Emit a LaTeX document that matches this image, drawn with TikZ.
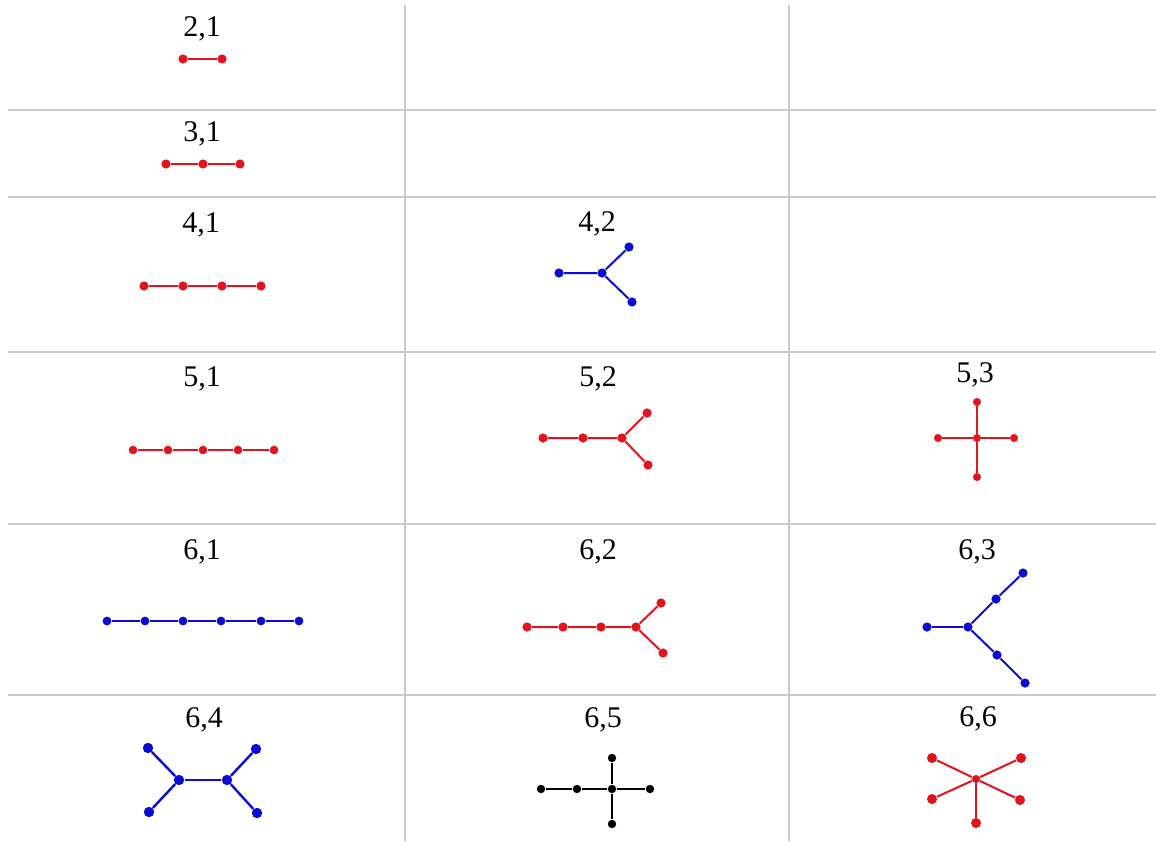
\documentclass[tikz,border=0pt]{standalone}
\usepackage{fontspec}
\setmainfont{Liberation Serif}
\definecolor{treered}{HTML}{E3121C}
\definecolor{treeblue}{HTML}{0B0BD6}
\definecolor{gridgrey}{HTML}{CACACA}
\begin{document}
\begin{tikzpicture}[x=0.5pt,y=-0.5pt,
  lbl/.style={font=\fontsize{15}{17}\selectfont, inner sep=0pt, anchor=base},
  rdot/.style={circle, fill=treered, inner sep=0pt, minimum size=4.6pt},
  bdot/.style={circle, fill=treeblue, inner sep=0pt, minimum size=4.6pt},
  kdot/.style={circle, fill=black, inner sep=0pt, minimum size=4.2pt},
  redge/.style={draw=treered, line width=1pt},
  bedge/.style={draw=treeblue, line width=1pt},
  kedge/.style={draw=black, line width=0.75pt},
  rule/.style={draw=gridgrey, line width=0.9pt}]
\fill[white] (0,0) rectangle (1156,841);
\useasboundingbox (0,0) rectangle (1156,841);
% table rules
\foreach \y in {110,197,352,524,695} \draw[rule] (8,\y) -- (1156,\y);
\foreach \x in {405,789} \draw[rule] (\x,5) -- (\x,841);
% cell titles
\foreach \id/\x/\y/\n/\k in {21/202/36/2/1, 31/202/141/3/1, 41/201/232/4/1, 42/597/231/4/2,
  51/202/386/5/1, 52/598/386/5/2, 53/975/382/5/3, 61/202/559/6/1, 62/598/559/6/2,
  63/977/559/6/3, 64/204/727/6/4, 65/603/727/6/5, 66/978/726/6/6}
  \node[lbl] (lbl\id) at (\x,\y) {\n,\k};

% paths
\foreach \x [count=\i] in {183,222} \node[rdot] (t21-\i) at (\x,59) {};
\draw[redge] (t21-1) -- (t21-2);
\foreach \x [count=\i] in {166,203,240} \node[rdot] (t31-\i) at (\x,164) {};
\draw[redge] (t31-1) -- (t31-2) -- (t31-3);
\foreach \x [count=\i] in {144,183,222,261} \node[rdot] (t41-\i) at (\x,286) {};
\draw[redge, line width=0.7pt] (t41-1) -- (t41-2) -- (t41-3) -- (t41-4);
\foreach \x [count=\i] in {133,168,203,238,274} \node[rdot, minimum size=4.3pt] (t51-\i) at (\x,450) {};
\draw[redge, line width=0.7pt] (t51-1) -- (t51-2) -- (t51-3) -- (t51-4) -- (t51-5);
\foreach \x [count=\i] in {107,145,183,221,261,299} \node[bdot, minimum size=4.4pt] (t61-\i) at (\x,621) {};
\draw[bedge] (t61-1) -- (t61-2) -- (t61-3) -- (t61-4) -- (t61-5) -- (t61-6);

% forks
\node[bdot] (t42-l) at (559,273) {};
\node[bdot] (t42-c) at (602,273) {};
\node[bdot] (t42-u) at (629,247) {};
\node[bdot] (t42-d) at (632,302) {};
\draw[bedge] (t42-l) -- (t42-c) -- (t42-u) (t42-c) -- (t42-d);

\foreach \x [count=\i] in {543,583,622} \node[rdot] (t52-\i) at (\x,438) {};
\node[rdot] (t52-u) at (647,413) {};
\node[rdot] (t52-d) at (648,465) {};
\draw[redge] (t52-1) -- (t52-2) -- (t52-3) -- (t52-u) (t52-3) -- (t52-d);

\node[rdot, minimum size=4pt] (t53-c) at (977,438) {};
\foreach \p/\x/\y in {t/977/402, b/977/477, l/938/438, r/1014/438} {
  \node[rdot, minimum size=4pt] (t53-\p) at (\x,\y) {};
  \draw[redge] (t53-c) -- (t53-\p);
}

\foreach \x [count=\i] in {527,563,601,636} \node[rdot] (t62-\i) at (\x,627) {};
\node[rdot] (t62-u) at (661,603) {};
\node[rdot] (t62-d) at (663,653) {};
\draw[redge] (t62-1) -- (t62-2) -- (t62-3) -- (t62-4) -- (t62-u) (t62-4) -- (t62-d);

\node[bdot] (t63-l) at (927,627) {};
\node[bdot] (t63-c) at (968,627) {};
\node[bdot] (t63-um) at (996,599) {};
\node[bdot] (t63-ue) at (1023,573) {};
\node[bdot] (t63-dm) at (997,655) {};
\node[bdot] (t63-de) at (1025,683) {};
\draw[bedge, line width=1.3pt] (t63-l) -- (t63-c);
\draw[bedge] (t63-c) -- (t63-um) -- (t63-ue) (t63-c) -- (t63-dm) -- (t63-de);

\node[bdot, minimum size=5.2pt] (t64-cl) at (179,780) {};
\node[bdot, minimum size=5.2pt] (t64-cr) at (227,780) {};
\foreach \p/\x/\y/\c in {tl/148/748/cl, bl/149/812/cl, tr/256/749/cr, br/257/813/cr} {
  \node[bdot, minimum size=5.2pt] (t64-\p) at (\x,\y) {};
  \draw[bedge, line width=1.2pt] (t64-\c) -- (t64-\p);
}
\draw[bedge, line width=1.2pt] (t64-cl) -- (t64-cr);

\foreach \x [count=\i] in {541,577,612,650} \node[kdot] (t65-\i) at (\x,789) {};
\node[kdot] (t65-t) at (612,758) {};
\node[kdot] (t65-b) at (612,824) {};
\draw[kedge] (t65-1) -- (t65-2) -- (t65-3) -- (t65-4) (t65-t) -- (t65-3) -- (t65-b);

\node[rdot, minimum size=4pt] (t66-c) at (976,779) {};
\foreach \p/\x/\y in {tl/932/758, tr/1021/758, bl/932/799, br/1020/800, b/976/823} {
  \node[rdot, minimum size=5pt] (t66-\p) at (\x,\y) {};
  \draw[redge] (t66-c) -- (t66-\p);
}
\end{tikzpicture}
\end{document}
